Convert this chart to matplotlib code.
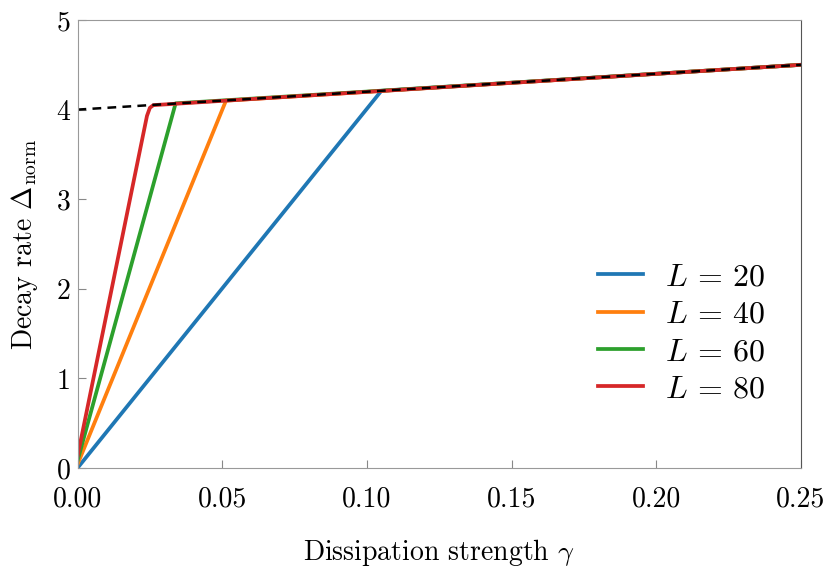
"""
Decay rate vs dissipation strength for several system sizes L.
"""

import matplotlib
matplotlib.use("Agg")
import matplotlib.pyplot as plt

# Data
sizes = [20, 40, 60, 80]
colors = ["#1f77b4", "#ff7f0e", "#2ca02c", "#d62728"]

gamma_L20 = [0.0, 0.105, 0.25]
delta_L20 = [0.0, 4.21, 4.50]

gamma_L40 = [0.0, 0.0513, 0.25]
delta_L40 = [0.04, 4.10, 4.50]

gamma_L60 = [0.0, 0.0339, 0.25]
delta_L60 = [0.08, 4.07, 4.50]

gamma_L80 = [0.0, 0.0240, 0.0250, 0.0262, 0.25]
delta_L80 = [0.13, 3.93, 4.02, 4.05, 4.50]

gamma_bound = [0.0, 0.25]
delta_bound = [4.0, 4.5]

series = [(gamma_L20, delta_L20), (gamma_L40, delta_L40),
          (gamma_L60, delta_L60), (gamma_L80, delta_L80)]

# Computer Modern look
plt.rcParams["font.family"] = "serif"
plt.rcParams["font.serif"] = ["cmr10"]
plt.rcParams["mathtext.fontset"] = "cm"
plt.rcParams["axes.formatter.use_mathtext"] = True
plt.rcParams["font.size"] = 20

fig = plt.figure(figsize=(8.3, 5.77), dpi=100)
ax = fig.add_axes([0.0934, 0.1889, 0.8716, 0.7764])

for L, (g, d), c in zip(sizes, series, colors):
    ax.plot(g, d, color=c, lw=2.7, label=r"$L\,=\,%d$" % L, solid_joinstyle="round")

ax.plot(gamma_bound, delta_bound, color="black", lw=1.8, ls=(0, (3.5, 2.5)))

ax.set_xlim(0, 0.25)
ax.set_ylim(0, 5)
ax.set_xticks([0.0, 0.05, 0.10, 0.15, 0.20, 0.25])
ax.set_xticklabels(["0.00", "0.05", "0.10", "0.15", "0.20", "0.25"])
ax.set_yticks([0, 1, 2, 3, 4, 5])
ax.set_yticklabels(["0", "1", "2", "3", "4", "5"])

ax.tick_params(direction="in", length=6, width=0.8, color="#888888")
ax.tick_params(axis="x", pad=13)
ax.tick_params(axis="y", pad=5)
for side in ["left", "bottom", "top"]:
    ax.spines[side].set_color("#999999")
ax.spines["right"].set_color("#555555")

ax.set_xlabel(r"Dissipation strength $\gamma$", labelpad=18)
ax.set_ylabel(r"Decay rate $\Delta_{\rm norm}$", labelpad=12)

ax.legend(loc="lower right", frameon=False, handlelength=1.4, handletextpad=0.7,
          labelspacing=0.28, fontsize=23, bbox_to_anchor=(0.99, 0.08))

fig.savefig("out.png", dpi=100)
